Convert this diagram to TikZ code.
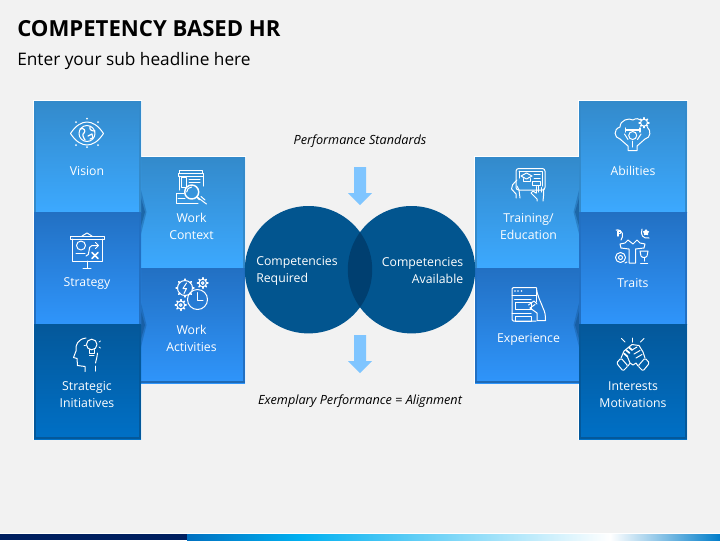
\documentclass[tikz,border=0pt]{standalone}
\usepackage{fontspec}
\setmainfont{Open Sans}
\usetikzlibrary{calc,shapes.geometric}
\definecolor{bgc}{HTML}{F2F2F2}
\definecolor{aT}{HTML}{338ACB}\definecolor{aB}{HTML}{3CA9FF}
\definecolor{bT}{HTML}{2270C3}\definecolor{bB}{HTML}{2F95FB}
\definecolor{cT}{HTML}{04589A}\definecolor{cB}{HTML}{0070C6}
\definecolor{edgeD}{HTML}{1F6AB6}
\definecolor{circ}{HTML}{02558F}
\definecolor{lens}{HTML}{003F70}
\definecolor{arrowc}{HTML}{7FC5FF}
\definecolor{navy}{HTML}{002060}
\definecolor{shad}{HTML}{12508C}
\definecolor{footA}{HTML}{0070C0}
\definecolor{footB}{HTML}{00B0F0}
\tikzset{
  x=0.75pt,y=-0.75pt,
  lab/.style={text=white,font=\fontsize{9.2pt}{12.75pt}\selectfont,align=center,inner sep=0pt},
  labl/.style={lab,align=left,anchor=west},
  labr/.style={lab,align=right,anchor=east},
  captxt/.style={text=black,font=\fontsize{9.5pt}{12pt}\selectfont\itshape,inner sep=0pt},
  ic/.style={draw=white,line width=0.75pt,line cap=round,line join=round},
  pa/.style={top color=aT,bottom color=aB},
  pb/.style={top color=bT,bottom color=bB},
  pc/.style={top color=cT,bottom color=cB},
}
\newcommand{\hrpanel}[6]{% style,x1,y1,x2,y2,edge colour
  \shade[#1] (#2,#3) rectangle (#4,#5);
  \draw[#6,line width=1.2pt] (#2+.8,#3) -- (#2+.8,#5);
  \draw[#6,line width=1.2pt] (#4-.8,#3) -- (#4-.8,#5);
}
\newcommand{\hrgear}[3]{%
  \draw[ic] (#1,#2) circle (#3);
  \foreach \a in {0,45,...,315}{\draw[ic,line width=1.2pt] ($(#1,#2)+(\a:#3)$) -- ($(#1,#2)+(\a:#3+1.4)$);}
}
\begin{document}
\begin{tikzpicture}
\useasboundingbox (0,0) rectangle (720,540);
\fill[bgc] (0,0) rectangle (720,540);
% footer
\fill[white] (0,533) rectangle (720,534);
\fill[navy] (0,534) rectangle (187,540);
\shade[left color=footA,right color=footB] (187,534) rectangle (300,540);
\shade[left color=footB,right color=white] (300,534) rectangle (610,540);
\shade[left color=white,right color=footA!80!footB] (610,534) rectangle (720,540);
% title
\node[anchor=west,inner sep=0pt,font=\fontsize{16.6pt}{20pt}\selectfont\bfseries] (title) at (17,29) {COMPETENCY BASED HR};
\node[anchor=west,inner sep=0pt,font=\fontsize{12.95pt}{16pt}\selectfont] (sub) at (17,61) {Enter your sub headline here};
% white halos
\draw[white,line width=1pt] (33.5,100.5) rectangle (141,439);
\draw[white,line width=1pt] (141,156.5) rectangle (245.5,383.5);
\draw[white,line width=1pt] (474.5,156.5) rectangle (579,383.5);
\draw[white,line width=1pt] (579,100.5) rectangle (687,439);
% middle panels
\hrpanel{pa}{138}{157}{245}{268}{aT}
\hrpanel{pb}{138}{268}{245}{383}{bT}
\fill[edgeD] (138,381) rectangle (245,383);
\hrpanel{pa}{475}{157}{582}{268}{aT}
\hrpanel{pb}{475}{268}{582}{383}{bT}
\fill[edgeD] (475,381) rectangle (582,383);
% chevron shadows
\foreach \yy in {212,325}{
  \fill[shad,opacity=.35] (141,\yy-22) -- (146.5,\yy) -- (141,\yy+22) -- cycle;
  \fill[shad,opacity=.5] (141,\yy-14) -- (145,\yy) -- (141,\yy+14) -- cycle;
  \fill[shad,opacity=.35] (579,\yy-22) -- (573.5,\yy) -- (579,\yy+22) -- cycle;
  \fill[shad,opacity=.5] (579,\yy-14) -- (575,\yy) -- (579,\yy+14) -- cycle;
}
% outer columns
\hrpanel{pa}{34}{101}{141}{212}{aT}
\hrpanel{pb}{34}{212}{141}{324}{bT}
\hrpanel{pc}{34}{324}{141}{439}{cT}
\fill[cT] (34,436.5) rectangle (141,439);
\hrpanel{pa}{579}{101}{687}{212}{aT}
\hrpanel{pb}{579}{212}{687}{324}{bT}
\hrpanel{pc}{579}{324}{687}{439}{cT}
\fill[cT] (579,436.5) rectangle (687,439);
% venn
\fill[circ] (308.5,269.7) circle (63.7);
\fill[circ] (411.5,269.7) circle (63.7);
\begin{scope}
  \clip (308.5,269.7) circle (63.7);
  \fill[lens] (411.5,269.7) circle (63.7);
\end{scope}
% arrows
\fill[arrowc] (354,167) -- (366,167) -- (366,193) -- (372,193) -- (360,205) -- (348,193) -- (354,193) -- cycle;
\fill[arrowc] (354,335) -- (366,335) -- (366,361) -- (372,361) -- (360,373) -- (348,361) -- (354,361) -- cycle;
% labels
\node[captxt] (ps) at (360,141) {Performance Standards};
\node[captxt] (ep) at (360,401) {Exemplary Performance = Alignment};
\node[labl] (cr) at (256,270.5) {Competencies\\Required};
\node[labr] (ca) at (463.5,270.5) {Competencies\\Available};
\node[lab] (vision) at (87,171) {Vision};
\node[lab] (strategy) at (87,283.5) {Strategy};
\node[lab] (si) at (87,395) {Strategic\\Initiatives};
\node[lab] (wc) at (191.5,226.5) {Work\\Context};
\node[lab] (wa) at (191.5,338.5) {Work\\Activities};
\node[lab] (te) at (528.5,226.5) {Training/\\Education};
\node[lab] (ex) at (528.5,339) {Experience};
\node[lab] (ab) at (633,171) {Abilities};
\node[lab] (tr) at (633,283) {Traits};
\node[lab] (im) at (633,395) {Interests\\Motivations};
% --- icon: eye
\draw[ic] (70.5,133.5) .. controls (76,125) and (82,122) .. (87,122) .. controls (92,122) and (98,125) .. (103.5,133.5) .. controls (98,142) and (92,145) .. (87,145) .. controls (82,145) and (76,142) .. (70.5,133.5) -- cycle;
\draw[ic] (87,133.5) circle (8);
\draw[ic,line width=.9pt] (80,129) .. controls (84,127) and (86,131) .. (84,133) .. controls (82,134) and (83,137) .. (85,140);
\draw[ic,line width=.9pt] (90,126.5) .. controls (89,130) and (92,131) .. (95,131);
\draw[ic,line width=.9pt] (88,136) -- (92,134) -- (93,138) -- (90,139);
\foreach \p/\q in {87/118.5,76/122,98/122,76/145,98/145,87/147}{\fill[white] (\p,\q) circle (1);}
% --- icon: strategy board
\draw[ic] (82,236) -- (87,233) -- (92,236);
\draw[ic] (70.5,236.5) rectangle (104,239);
\draw[ic] (72,239) -- (72,261) -- (102,261) -- (102,239);
\draw[ic] (87,261) -- (87,268); \draw[ic] (83,268) -- (91,268);
\draw[ic] (81,245.5) circle (4.5);
\draw[ic] (76,253) -- (85,253);
\draw[ic] (86,256) .. controls (91,256) and (87,246) .. (92,245.5) -- (98,245.5);
\draw[ic] (95.5,242.5) -- (98.5,245.5) -- (95.5,248.5);
\draw[ic,line width=1.2pt] (92,252.5) -- (98,258.5); \draw[ic,line width=1.2pt] (98,252.5) -- (92,258.5);
% --- icon: head with bulb
\draw[ic] (85,371.5) -- (85,366.5) -- (77.5,365.5) -- (77,358.5) -- (73.5,357.5) -- (76,351) .. controls (75,345) and (78,339) .. (86,338);
\draw[ic] (91.7,344.5) circle (5.3);
\draw[ic] (89,349.5) -- (89,353) -- (94.5,353) -- (94.5,349.5);
\draw[ic] (89.5,355.5) -- (94,355.5);
\draw[ic] (97.5,353) .. controls (97,358) and (96,360) .. (95.5,363);
\draw[ic] (95.5,366) -- (95.5,371);
\draw[ic,line width=.6pt] (84,345) -- (85.5,345); \draw[ic,line width=.6pt] (99,342) -- (100.5,341); \draw[ic,line width=.6pt] (99,347) -- (100.5,348);
% --- icon: work context
\draw[ic] (179,173) -- (179,170.5) -- (202,170.5) -- (202,173);
\draw[ic] (178,173) rectangle (203,176);
\draw[ic] (179.5,176) -- (179.5,190); \draw[ic] (203,176) -- (203,186);
\draw[ic] (181,177.5) rectangle (186.5,187);
\draw[ic] (189,179) -- (200,179); \draw[ic] (189,182.5) -- (200,182.5);
\draw[ic,line width=1.1pt] (191.7,192) circle (7);
\draw[ic] (191.7,187) arc (270:180:5);
\draw[ic,line width=1.1pt] (197,197) -- (199.5,199.5);
\draw[ic] (198.5,198) -- (206.5,204) ; \draw[ic] (201,196.5) -- (205,200);
\draw[ic] (184,193.5) -- (176.5,193.5) -- (176.5,203.5) -- (198,203.5);
\draw[ic] (178,198) -- (185,198);
% --- icon: gears & clock
\hrgear{185}{288}{7.5}
\draw[ic] (186.5,283) -- (183,288.5) -- (186.5,288.5) -- (184,293.5);
\hrgear{202.7}{283}{3.8}
\draw[ic] (202.7,283) circle (1.4);
\hrgear{180.7}{305}{4}
\draw[ic] (180.7,305) circle (1.4);
\draw[ic] (197.5,299.5) circle (10);
\draw[ic] (197.5,292.5) -- (197.5,300) -- (203,300);
% --- icon: training tablet
\draw[ic,rounded corners=2pt] (516,168.5) rectangle (545,190);
\draw[ic] (519,171) -- (542,171) -- (542,186);
\draw[ic] (519,171) -- (519,178);
\draw[ic] (521,176) -- (526.5,173) -- (532,176) -- (526.5,179) -- cycle;
\draw[ic] (523,178.5) -- (523,181.5) -- (530,181.5) -- (530,178.5);
\draw[ic] (534,174.5) -- (540,174.5); \draw[ic] (534,178) -- (540,178);
\draw[ic] (532,181) rectangle (540,185);
\draw[ic] (517,180) .. controls (513,184) and (511,186) .. (511.5,189) -- (516,194) -- (516,198);
\draw[ic] (517,186) -- (519,190) -- (520,198);
\draw[ic] (536,186.5) -- (536,193) ; \draw[ic] (538.5,186) -- (538.5,192); \draw[ic] (541,187.5) -- (541,192);\draw[ic] (543.5,189) -- (543.5,196) -- (543,201);
\draw[ic] (536,193) -- (533,191) -- (531,193) -- (537,199) -- (537,201);
% --- icon: experience
\draw[ic,rounded corners=1pt] (536,287.5) -- (512,287.5) -- (512,321) -- (536,321);
\draw[ic] (512,295) -- (536,295);
\foreach \p in {515,518,521.5}{\fill[white] (\p,291) circle (.8);}
\draw[ic] (514.5,299) -- (531,299);
\draw[ic] (515,302.5) rectangle (531,309);
\draw[ic] (512,313) -- (531,313);
\draw[ic] (515,316.5) rectangle (531,321);
\draw[ic] (536.5,288) .. controls (537,296) and (541,302) .. (543,308) .. controls (545,312) and (545.5,315) .. (545.5,320.5) -- (537,320.5) ;
\draw[ic] (536,288) -- (536,302);
\draw[ic] (528.5,305) -- (534,301) -- (537,304);
\draw[ic] (530,308) -- (535,304.5);
\draw[ic] (530,308) -- (537,313) -- (537,320);
% --- icon: abilities
\draw[ic] (620,139) .. controls (614,138) and (613,129) .. (620,127) .. controls (620,120) and (629,117.5) .. (633,120) .. controls (636,118) and (639,118.5) .. (640.5,120);
\draw[ic] (645,139) .. controls (651,138) and (651,130) .. (647.5,127.5);
\draw[ic] (620,139) -- (628,146) -- (628,150.5) -- (637,150.5) -- (637,146) -- (645,139);
\hrgear{644}{122.7}{3.5}
\draw[ic,line width=1.1pt] (625.5,130) -- (640,130);
\draw[ic,line width=1.1pt] (625.5,128) -- (625.5,132); \draw[ic,line width=1.1pt] (640,128) -- (640,132);
\draw[ic] (632.7,135.5) circle (4);
\draw[ic] (624.5,134) -- (628,139.5); \draw[ic] (641,134) -- (637.5,139.5);
\draw[ic] (632.7,141) -- (632.7,147);
% --- icon: traits
\draw[ic] (616,230) .. controls (623,229) and (624,236) .. (621,240);
\draw[ic,line width=1.1pt] (618,231) -- (618,236) (618,231) -- (620.5,231) -- (620.5,233.5) -- (618,233.5);
\draw[ic] (642,229) .. controls (640,235) and (643,239) .. (649,238);
\node[star,star points=5,fill=white,inner sep=0pt,minimum size=5pt] (traitstar) at (646,232.5) {};
\draw[ic] (621,248) -- (620,244) -- (625,243) -- (628,240) -- (633,244) -- (637,240) -- (640,243) -- (645,244) -- (644,248) -- (635.5,249) -- (635.5,263) -- (629,263) -- (629,249) -- cycle;
\draw[ic] (620.5,257.5) circle (5);
\draw[ic] (620.5,257.5) circle (2);
\draw[ic] (640,251) -- (648,251) -- (647,256) .. controls (646,258) and (642,258) .. (641,256) -- cycle;
\draw[ic] (644,258) -- (644,261); \draw[ic] (640.5,263) -- (647.5,263);
\draw[ic] (627,262) -- (625,263);
% --- icon: clasped hands
\draw[ic] (621.5,338.5) -- (625,342);
\draw[ic] (632.7,338) -- (632.7,342);
\draw[ic] (644,338.5) -- (640.5,342);
\draw[ic] (621,358) -- (624,351) -- (632,344.5) -- (639,345.5) -- (643,352) -- (645,358);
\draw[ic,rounded corners=1pt] (621,358) -- (616.5,363) -- (623,371) -- (628,366) -- cycle;
\draw[ic,rounded corners=1pt] (645,358) -- (649.5,363) -- (643,371) -- (638,366) -- cycle;
\draw[ic] (628,366) -- (630,363) -- (633,365) -- (636,363) -- (638,366);
\draw[ic,line width=1.3pt] (626,350) -- (629.5,353); \draw[ic,line width=1.3pt] (624,353.5) -- (627.5,356.5);\draw[ic,line width=1.3pt] (629,347.5) -- (632,350);
\draw[ic] (632,350) -- (637,347);\draw[ic] (634,354) -- (640,350.5);\draw[ic] (636,358) -- (642,354.5);
\draw[ic] (630,363) -- (627.5,357);
\end{tikzpicture}
\end{document}
